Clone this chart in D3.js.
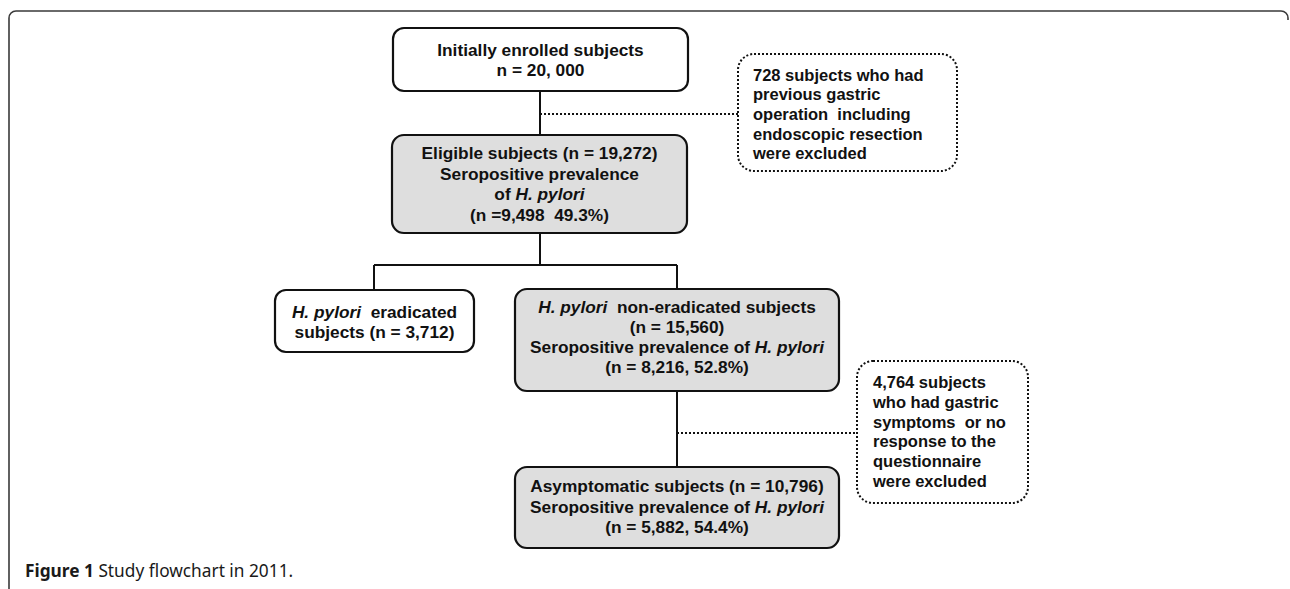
<!DOCTYPE html>
<html>
<head>
<meta charset="utf-8">
<script src="https://cdn.jsdelivr.net/npm/d3@7"></script>
<style>
  html, body { margin: 0; padding: 0; background: #fff; }
  svg text { white-space: pre; }
</style>
</head>
<body>
<svg id="chart" width="1290" height="589"></svg>
<script>
// ---------- DATA (text of the flowchart) ----------
// *...* marks italic segments
const boxIds = ["enrolled", "eligible", "eradicated", "nonEradicated", "asymptomatic"];
const boxLines = [
  ["Initially enrolled subjects", "n = 20, 000"],
  ["Eligible subjects (n = 19,272)", "Seropositive prevalence", "of *H. pylori*", "(n =9,498  49.3%)"],
  ["*H. pylori*  eradicated", "subjects (n = 3,712)"],
  ["*H. pylori*  non-eradicated subjects", "(n = 15,560)", "Seropositive prevalence of *H. pylori*", "(n = 8,216, 52.8%)"],
  ["Asymptomatic subjects (n = 10,796)", "Seropositive prevalence of *H. pylori*", "(n = 5,882, 54.4%)"]
];
const boxShaded = [false, true, false, true, true];

const exclusionIds = ["excl1", "excl2"];
const exclusionLines = [
  ["728 subjects who had", "previous gastric", "operation  including", "endoscopic resection", "were excluded"],
  ["4,764 subjects", "who had gastric", "symptoms  or no", "response to the", "questionnaire", "were excluded"]
];
const captionBold = "Figure 1";
const captionText = " Study flowchart in 2011.";

// ---------- LAYOUT ----------
const layout = {
  enrolled:      {x0: 393, x1: 688, y0: 28,  y1: 91,  r: 11, base: 56,    step: 20},
  eligible:      {x0: 392, x1: 687, y0: 135, y1: 233, r: 12, base: 159.3, step: 20.4},
  eradicated:    {x0: 275, x1: 474, y0: 290, y1: 352, r: 11, base: 317.7, step: 20},
  nonEradicated: {x0: 515, x1: 839, y0: 289, y1: 391, r: 12, base: 313.3, step: 20},
  asymptomatic:  {x0: 515, x1: 839, y0: 467, y1: 548, r: 12, base: 492,   step: 20.5},
  excl1:         {x0: 738, x1: 957, y0: 54,  y1: 171, r: 16, tx: 753, base: 80.7,  step: 19.6},
  excl2:         {x0: 857, x1: 1028, y0: 361, y1: 503, r: 16, tx: 873, base: 388.3, step: 19.7}
};
const solidLinks = [
  [[540, 91], [540, 135]],
  [[540, 233], [540, 265]],
  [[374, 265], [677, 265]],
  [[374, 265], [374, 290]],
  [[677, 265], [677, 289]],
  [[677, 391], [677, 467]]
];
const dottedLinks = [
  [[540, 114], [738, 114]],
  [[677, 433], [857, 433]]
];

const svg = d3.select("#chart");
const FONT = "'Liberation Sans', Arial, Helvetica, sans-serif";
const FS_BOX = 17.3;
const FS_EXCL = 16.5;

// outer frame
const frame = d3.path();
frame.moveTo(9, 589);
frame.lineTo(9, 18);
frame.arcTo(9, 11, 16, 11, 7);
frame.lineTo(1281, 11);
frame.arcTo(1288, 11, 1288, 18, 7);
frame.lineTo(1288, 20);
svg.append("path").attr("d", frame.toString())
  .attr("fill", "none").attr("stroke", "#3a3a3a").attr("stroke-width", 1.6);

const line = d3.line();
svg.append("g").selectAll("path").data(solidLinks).join("path")
  .attr("d", d => line(d)).attr("fill", "none")
  .attr("stroke", "#111").attr("stroke-width", 2);
svg.append("g").selectAll("path").data(dottedLinks).join("path")
  .attr("d", d => line(d)).attr("fill", "none")
  .attr("stroke", "#111").attr("stroke-width", 2)
  .attr("stroke-dasharray", "2,2");

function addLine(textSel, str) {
  const parts = str.split("*");
  parts.forEach((p, i) => {
    if (!p) return;
    textSel.append("tspan").text(p)
      .attr("font-style", i % 2 === 1 ? "italic" : "normal");
  });
}

// main boxes
const boxes = boxIds.map((id, i) => ({id, lines: boxLines[i], shaded: boxShaded[i], L: layout[id]}));
const bg = svg.append("g").selectAll("g").data(boxes).join("g");
bg.append("rect")
  .attr("x", d => d.L.x0).attr("y", d => d.L.y0)
  .attr("width", d => d.L.x1 - d.L.x0).attr("height", d => d.L.y1 - d.L.y0)
  .attr("rx", d => d.L.r).attr("ry", d => d.L.r)
  .attr("fill", d => d.shaded ? "#dedede" : "#fff")
  .attr("stroke", "#111").attr("stroke-width", 2.2);
bg.each(function(d) {
  const g = d3.select(this);
  const cx = (d.L.x0 + d.L.x1) / 2;
  d.lines.forEach((ln, k) => {
    const t = g.append("text").attr("x", cx).attr("y", d.L.base + k * d.L.step)
      .attr("text-anchor", "middle").attr("font-family", FONT)
      .attr("font-size", FS_BOX).attr("font-weight", "bold").attr("fill", "#111");
    addLine(t, ln);
  });
});

// exclusion boxes
const excl = exclusionIds.map((id, i) => ({id, lines: exclusionLines[i], L: layout[id]}));
const eg = svg.append("g").selectAll("g").data(excl).join("g");
eg.append("rect")
  .attr("x", d => d.L.x0).attr("y", d => d.L.y0)
  .attr("width", d => d.L.x1 - d.L.x0).attr("height", d => d.L.y1 - d.L.y0)
  .attr("rx", d => d.L.r).attr("ry", d => d.L.r)
  .attr("fill", "#fff").attr("stroke", "#111").attr("stroke-width", 2)
  .attr("stroke-dasharray", "2,2");
eg.each(function(d) {
  const g = d3.select(this);
  d.lines.forEach((ln, k) => {
    const t = g.append("text").attr("x", d.L.tx).attr("y", d.L.base + k * d.L.step)
      .attr("font-family", FONT).attr("font-size", FS_EXCL).attr("font-weight", "bold").attr("fill", "#111");
    addLine(t, ln);
  });
});

// caption
const cap = svg.append("text").attr("x", 25).attr("y", 577)
  .attr("font-family", "'Noto Sans', 'Open Sans', sans-serif").attr("font-size", 17.3).attr("fill", "#1a1a1a");
cap.append("tspan").attr("font-weight", "bold").text(captionBold);
cap.append("tspan").text(captionText);
</script>
</body>
</html>
